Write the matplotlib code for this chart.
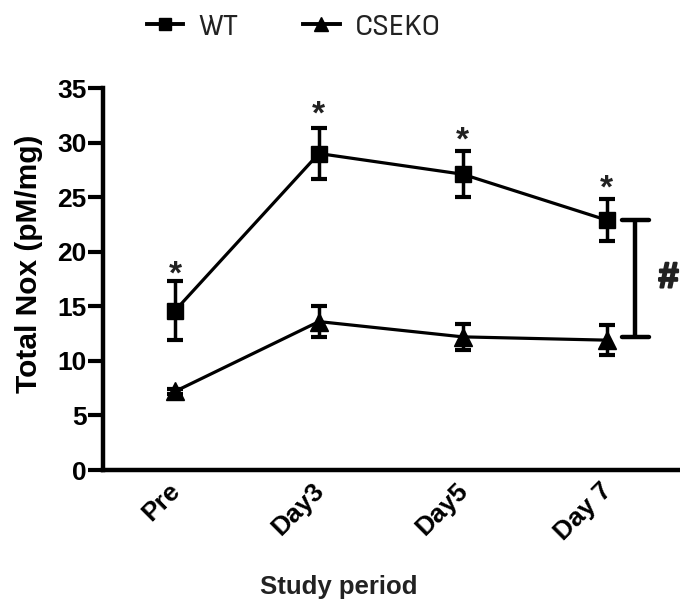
import matplotlib
matplotlib.use("Agg")
import matplotlib.pyplot as plt
from matplotlib.lines import Line2D
from matplotlib import font_manager
import matplotlib.patheffects as pe
import matplotlib.transforms as mtransforms

categories = ["Pre", "Day3", "Day5", "Day 7"]
wt_mean = [14.6, 29.0, 27.1, 22.9]
wt_err = [2.7, 2.3, 2.1, 1.9]
ko_mean = [7.2, 13.6, 12.2, 11.9]
ko_err = [0.2, 1.45, 1.2, 1.35]
star_y = [17.9, 32.5, 30.1, 25.7]
bracket_lo, bracket_hi = 12.2, 22.9

# look for a condensed/narrow regular sans face for the legend
narrow_path = None
for f in font_manager.fontManager.ttflist:
    fn = f.fname.lower()
    if ('narrow' in fn or 'condensed' in fn) and 'sans' in fn and 'mono' not in fn \
            and 'bold' not in fn and 'oblique' not in fn and 'italic' not in fn:
        narrow_path = f.fname
        if 'liberation' in fn:
            break

plt.rcParams['font.family'] = ['Liberation Sans', 'DejaVu Sans']
fig = plt.figure(figsize=(6.8, 6.05), dpi=100)
ax = fig.add_axes([0.1515, 0.2231, 0.8465, 0.6314])
x = list(range(len(categories)))

ax.errorbar(x, wt_mean, yerr=wt_err, color='black', lw=2.3, marker='s', ms=11.5,
            capsize=6, capthick=3, elinewidth=2.5, label='WT', zorder=3)
ax.errorbar(x, ko_mean, yerr=ko_err, color='black', lw=2.3, marker='^', ms=13,
            capsize=6, capthick=3, elinewidth=2.5, label='CSEKO', zorder=3)

for xi, sy in zip(x, star_y):
    ax.text(xi, sy, '*', ha='center', va='center', fontsize=24, fontweight='bold', color='#222222')

bx = 3.2
ax.plot([bx, bx], [bracket_lo, bracket_hi], color='black', lw=3.2, solid_capstyle='butt')
ax.plot([bx - 0.095, bx + 0.095], [bracket_hi, bracket_hi], color='black', lw=3.2, solid_capstyle='round')
ax.plot([bx - 0.095, bx + 0.095], [bracket_lo, bracket_lo], color='black', lw=3.2, solid_capstyle='round')
ax.text(3.36, 17.6, '#', ha='left', va='center', fontsize=26,
        fontweight='bold', color='#222222', clip_on=False,
        path_effects=[pe.withStroke(linewidth=1.6, foreground='#222222')])

ax.set_xlim(-0.5, 3.5)
ax.set_ylim(0, 35)
ax.set_yticks([0, 5, 10, 15, 20, 25, 30, 35])
ax.set_xticks(x)
ax.tick_params(axis='y', length=11, width=3, pad=1)
ax.tick_params(axis='x', length=0, pad=6)
ax.set_xticklabels(categories, rotation=45, ha='right', va='top', rotation_mode='anchor',
                   fontsize=19, fontweight='bold')
for lab in ax.get_yticklabels():
    lab.set_fontsize(19)
    lab.set_fontweight('bold')
for s in ['top', 'right']:
    ax.spines[s].set_visible(False)
for s in ['left', 'bottom']:
    ax.spines[s].set_linewidth(3.2)
shift = mtransforms.ScaledTranslation(-0.07, 0, fig.dpi_scale_trans)
for lab in ax.get_xticklabels():
    lab.set_transform(lab.get_transform() + shift)

ax.set_ylabel('Total Nox (pM/mg)', fontsize=21.5, fontweight='bold')
ax.yaxis.set_label_coords(-0.104, 0.54)
ax.set_xlabel('Study period', fontsize=18.5, fontweight='bold', color='#222222')
ax.xaxis.set_label_coords(0.41, -0.275)

handles = [Line2D([], [], color='black', lw=2.8, marker='s', ms=9),
           Line2D([], [], color='black', lw=2.8, marker='^', ms=10)]
if narrow_path:
    lprop = font_manager.FontProperties(fname=narrow_path, size=22)
else:
    lprop = font_manager.FontProperties(family='Liberation Sans', size=19)
leg = fig.legend(handles, ['WT', 'CSEKO'], loc='center', bbox_to_anchor=(0.432, 0.955), ncol=2,
                 frameon=False, prop=lprop, handlelength=1.2, columnspacing=2.1, handletextpad=0.5)
for t in leg.get_texts():
    t.set_color('#222222')

fig.savefig('out.png', dpi=100)
